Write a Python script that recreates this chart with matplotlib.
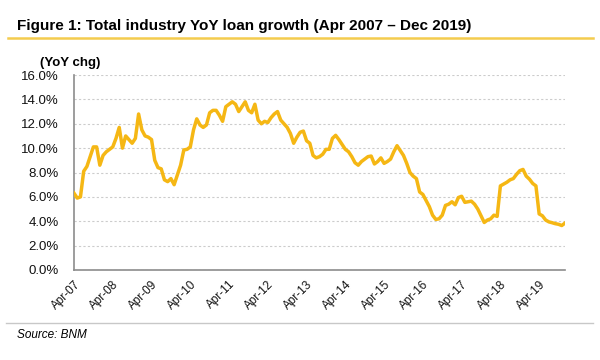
import matplotlib
matplotlib.use("Agg")
import matplotlib.pyplot as plt
from matplotlib.lines import Line2D

# --- data: monthly YoY loan growth (%), Apr 2007 .. Dec 2019 ---
growth = [
    6.3, 5.9, 6.0, 8.1, 8.5, 9.3, 10.1, 10.1, 8.6, 9.4, 9.7, 9.9,
    10.1, 10.8, 11.7, 10.0, 11.0, 10.7, 10.4, 10.8, 12.8, 11.5, 11.0, 10.9,
    10.7, 9.0, 8.4, 8.3, 7.4, 7.25, 7.5, 7.0, 7.8, 8.6, 9.85, 9.9,
    10.1, 11.5, 12.4, 11.9, 11.7, 11.9, 12.9, 13.1, 13.1, 12.7, 12.2, 13.4,
    13.6, 13.8, 13.6, 13.0, 13.4, 13.8, 13.1, 12.9, 13.6, 12.3, 12.0, 12.2,
    12.1, 12.5, 12.8, 13.0, 12.3, 12.0, 11.7, 11.2, 10.4, 10.9, 11.3, 11.4,
    10.6, 10.4, 9.4, 9.2, 9.3, 9.5, 9.9, 9.9, 10.8, 11.05, 10.7, 10.3,
    9.9, 9.7, 9.3, 8.8, 8.6, 8.9, 9.1, 9.3, 9.35, 8.7, 8.9, 9.2,
    8.75, 8.9, 9.1, 9.7, 10.2, 9.8, 9.4, 8.75, 8.0, 7.7, 7.5, 6.4,
    6.2, 5.7, 5.2, 4.5, 4.15, 4.2, 4.5, 5.3, 5.4, 5.6, 5.35, 5.95,
    6.05, 5.55, 5.6, 5.65, 5.4, 5.0, 4.45, 3.9, 4.1, 4.2, 4.5, 4.4,
    6.9, 7.05, 7.2, 7.4, 7.5, 7.85, 8.15, 8.25, 7.7, 7.45, 7.1, 6.9,
    4.6, 4.45, 4.1, 3.95, 3.88, 3.8, 3.75, 3.65, 3.85,
]
tick_labels = ["Apr-07", "Apr-08", "Apr-09", "Apr-10", "Apr-11", "Apr-12", "Apr-13",
               "Apr-14", "Apr-15", "Apr-16", "Apr-17", "Apr-18", "Apr-19"]
y_ticks = [0, 2, 4, 6, 8, 10, 12, 14, 16]

plt.rcParams["font.family"] = ["Liberation Sans", "DejaVu Sans"]

fig = plt.figure(figsize=(6, 3.6), dpi=100)
ax = fig.add_axes([74 / 600, 1 - 270 / 360, 491 / 600, 195 / 360])

months = list(range(len(growth)))
ax.plot(months, growth, color="#F5B714", lw=2.5, solid_joinstyle="round", zorder=3)

ax.set_xlim(0, len(growth) - 1)
ax.set_ylim(0, 16)
ax.set_yticks(y_ticks)
ax.set_yticklabels([f"{v:.1f}%" for v in y_ticks], fontsize=9.5, color="#111111")
ax.set_xticks(months[::12])
ax.set_xticklabels(tick_labels, rotation=45, ha="right", rotation_mode="anchor",
                   fontsize=8.5, color="#111111")
ax.tick_params(axis="y", length=0, pad=11)
ax.tick_params(axis="x", length=0, pad=6)

ax.grid(axis="y", color="#cccccc", lw=0.8, ls=(0, (2, 2)))
ax.set_axisbelow(True)
for side in ["top", "right"]:
    ax.spines[side].set_visible(False)
for side in ["left", "bottom"]:
    ax.spines[side].set_color("#8c8c8c")
    ax.spines[side].set_linewidth(1.2)

# --- teks dan garis header/footer ---
fig.text(17 / 600, 1 - 30 / 360, "Figure 1: Total industry YoY loan growth (Apr 2007 \u2013 Dec 2019)",
         fontsize=11, fontweight="bold", ha="left", va="baseline")
fig.text(40 / 600, 1 - 66 / 360, "(YoY chg)", fontsize=9.5, fontweight="bold",
         ha="left", va="baseline")
fig.text(17 / 600, 1 - 338 / 360, "Source: BNM", fontsize=8.5, style="italic",
         ha="left", va="baseline")

fig.add_artist(Line2D([8 / 600, 593 / 600], [1 - 38 / 360] * 2, color="#F4CC4E", lw=1.8))
fig.add_artist(Line2D([6 / 600, 593 / 600], [1 - 323 / 360] * 2, color="#c8c8c8", lw=1.0))

fig.savefig("out.png", dpi=100)
